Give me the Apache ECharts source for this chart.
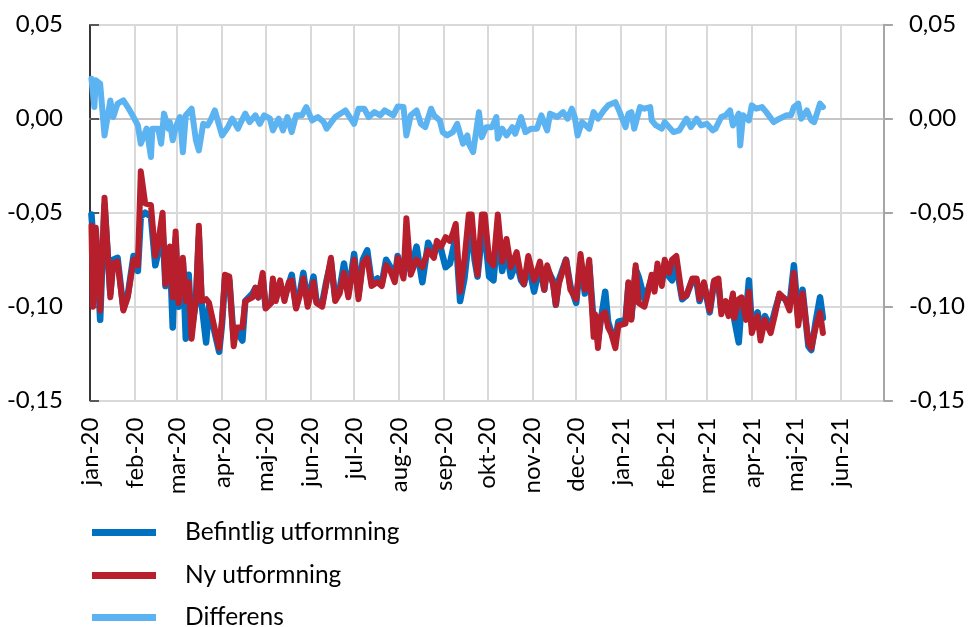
<!DOCTYPE html>
<html>
<head>
<meta charset="utf-8">
<script src="https://cdn.jsdelivr.net/npm/echarts@6/dist/echarts.min.js"></script>
<style>
html,body{margin:0;padding:0;background:#fff;}
#chart{width:968px;height:627px;}
</style>
</head>
<body>
<div id="chart"></div>
<script>
// ---- data ----
const seriesNames = ['Befintlig utformning', 'Ny utformning', 'Differens'];
const monthNames = ['jan','feb','mar','apr','maj','jun','jul','aug','sep','okt','nov','dec'];
const yTicks = [-0.15, -0.10, -0.05, 0.00, 0.05];

const dates = [
'2020-01-02','2020-01-03','2020-01-05','2020-01-08','2020-01-11','2020-01-15','2020-01-17','2020-01-20','2020-01-24','2020-01-27','2020-01-31',
'2020-02-03','2020-02-05','2020-02-08','2020-02-12','2020-02-15','2020-02-17','2020-02-20','2020-02-22','2020-02-25','2020-02-27','2020-02-29',
'2020-03-02','2020-03-05','2020-03-07','2020-03-09','2020-03-11','2020-03-14','2020-03-16','2020-03-18','2020-03-21','2020-03-23','2020-03-27','2020-03-30',
'2020-04-01','2020-04-03','2020-04-06','2020-04-09','2020-04-11','2020-04-15','2020-04-17','2020-04-22','2020-04-24','2020-04-26','2020-04-29',
'2020-05-01','2020-05-05','2020-05-06','2020-05-08','2020-05-11','2020-05-14','2020-05-17','2020-05-19','2020-05-22','2020-05-25','2020-05-27','2020-05-30',
'2020-06-03','2020-06-05','2020-06-09','2020-06-12','2020-06-15','2020-06-18','2020-06-21','2020-06-24','2020-06-27',
'2020-07-01','2020-07-04','2020-07-07','2020-07-10','2020-07-13','2020-07-17','2020-07-20','2020-07-23','2020-07-26','2020-07-29','2020-07-31',
'2020-08-04','2020-08-06','2020-08-09','2020-08-13','2020-08-17','2020-08-21','2020-08-25','2020-08-27','2020-08-30',
'2020-09-02','2020-09-05','2020-09-07','2020-09-09','2020-09-12','2020-09-15','2020-09-18','2020-09-20','2020-09-22','2020-09-24','2020-09-27','2020-09-29',
'2020-10-02','2020-10-05','2020-10-08','2020-10-11','2020-10-14','2020-10-17','2020-10-21','2020-10-24','2020-10-26','2020-10-29',
'2020-11-02','2020-11-06','2020-11-09','2020-11-11','2020-11-15','2020-11-17','2020-11-19','2020-11-24','2020-11-27',
'2020-12-01','2020-12-04','2020-12-07','2020-12-10','2020-12-13','2020-12-14','2020-12-16','2020-12-18','2020-12-21','2020-12-23','2020-12-25','2020-12-28','2020-12-30',
'2021-01-04','2021-01-06','2021-01-08','2021-01-11','2021-01-13','2021-01-17','2021-01-19','2021-01-22','2021-01-24','2021-01-26','2021-01-29','2021-01-31',
'2021-02-03','2021-02-05','2021-02-08','2021-02-12','2021-02-15','2021-02-19','2021-02-22','2021-02-24','2021-02-27',
'2021-03-03','2021-03-06','2021-03-09','2021-03-11','2021-03-14','2021-03-16','2021-03-19','2021-03-20','2021-03-23','2021-03-25','2021-03-28','2021-03-30',
'2021-04-01','2021-04-03','2021-04-05','2021-04-07','2021-04-10','2021-04-14','2021-04-17','2021-04-20','2021-04-24','2021-04-27','2021-04-30',
'2021-05-03','2021-05-06','2021-05-10','2021-05-12','2021-05-15','2021-05-18','2021-05-20'
];

const nyUtformning = [
-0.057,-0.100,-0.058,-0.102,-0.042,-0.095,-0.077,-0.076,-0.102,-0.095,-0.075,
-0.078,-0.028,-0.045,-0.046,-0.073,-0.066,-0.050,-0.088,-0.068,-0.095,-0.060,
-0.098,-0.074,-0.097,-0.087,-0.117,-0.096,-0.057,-0.097,-0.096,-0.098,-0.112,-0.122,
-0.107,-0.083,-0.084,-0.121,-0.111,-0.111,-0.097,-0.095,-0.090,-0.095,-0.082,
-0.101,-0.098,-0.085,-0.097,-0.086,-0.097,-0.087,-0.086,-0.101,-0.093,-0.085,-0.100,
-0.087,-0.098,-0.100,-0.087,-0.074,-0.097,-0.093,-0.082,-0.095,
-0.075,-0.096,-0.077,-0.074,-0.089,-0.087,-0.089,-0.078,-0.081,-0.087,-0.074,
-0.085,-0.053,-0.083,-0.075,-0.079,-0.070,-0.074,-0.065,-0.068,
-0.063,-0.065,-0.061,-0.056,-0.092,-0.075,-0.051,-0.051,-0.070,-0.083,-0.051,-0.051,
-0.075,-0.078,-0.051,-0.076,-0.064,-0.079,-0.071,-0.084,-0.088,-0.073,
-0.086,-0.076,-0.091,-0.078,-0.088,-0.099,-0.088,-0.075,-0.091,
-0.096,-0.072,-0.091,-0.075,-0.116,-0.104,-0.122,-0.105,-0.103,-0.111,-0.114,-0.122,-0.110,
-0.109,-0.087,-0.107,-0.078,-0.098,-0.100,-0.094,-0.083,-0.092,-0.077,-0.089,-0.075,
-0.082,-0.075,-0.073,-0.095,-0.094,-0.085,-0.085,-0.096,-0.087,
-0.102,-0.086,-0.085,-0.104,-0.097,-0.105,-0.093,-0.106,-0.096,-0.095,-0.107,-0.092,
-0.114,-0.109,-0.105,-0.118,-0.107,-0.114,-0.104,-0.093,-0.096,-0.102,-0.082,
-0.110,-0.093,-0.119,-0.122,-0.111,-0.103,-0.114
];

const befintligUtformning = [
-0.051,-0.062,-0.060,-0.107,-0.046,-0.093,-0.075,-0.074,-0.101,-0.094,-0.073,
-0.081,-0.052,-0.050,-0.052,-0.078,-0.071,-0.058,-0.089,-0.070,-0.111,-0.064,
-0.100,-0.076,-0.117,-0.083,-0.112,-0.097,-0.063,-0.099,-0.119,-0.100,-0.114,-0.124,
-0.109,-0.085,-0.086,-0.117,-0.113,-0.118,-0.097,-0.093,-0.090,-0.095,-0.085,
-0.100,-0.097,-0.087,-0.096,-0.088,-0.095,-0.088,-0.083,-0.100,-0.091,-0.082,-0.098,
-0.084,-0.097,-0.098,-0.086,-0.076,-0.096,-0.091,-0.077,-0.093,
-0.072,-0.094,-0.075,-0.070,-0.087,-0.085,-0.088,-0.075,-0.079,-0.085,-0.073,
-0.083,-0.072,-0.081,-0.068,-0.087,-0.066,-0.072,-0.068,-0.070,
-0.079,-0.077,-0.070,-0.062,-0.097,-0.085,-0.064,-0.058,-0.075,-0.084,-0.062,-0.060,
-0.084,-0.086,-0.060,-0.081,-0.070,-0.084,-0.076,-0.086,-0.088,-0.077,
-0.092,-0.078,-0.091,-0.080,-0.086,-0.099,-0.086,-0.075,-0.089,
-0.098,-0.075,-0.093,-0.078,-0.108,-0.106,-0.118,-0.107,-0.092,-0.108,-0.113,-0.118,-0.108,
-0.107,-0.088,-0.106,-0.080,-0.084,-0.096,-0.092,-0.085,-0.090,-0.079,-0.087,-0.077,
-0.084,-0.086,-0.078,-0.096,-0.094,-0.086,-0.087,-0.097,-0.088,
-0.103,-0.087,-0.088,-0.102,-0.098,-0.104,-0.095,-0.107,-0.119,-0.098,-0.104,-0.086,
-0.110,-0.106,-0.103,-0.114,-0.105,-0.111,-0.102,-0.094,-0.096,-0.099,-0.078,
-0.106,-0.091,-0.121,-0.123,-0.108,-0.095,-0.106
];

const differensDates = [
'2020-01-02','2020-01-04','2020-01-05','2020-01-08','2020-01-11','2020-01-15','2020-01-17','2020-01-20','2020-01-24','2020-01-27','2020-01-31',
'2020-02-03','2020-02-05','2020-02-09','2020-02-12','2020-02-13','2020-02-17','2020-02-19','2020-02-21','2020-02-24','2020-02-25','2020-02-27','2020-02-29',
'2020-03-03','2020-03-05','2020-03-07','2020-03-11','2020-03-14','2020-03-16','2020-03-19','2020-03-22','2020-03-24','2020-03-27',
'2020-04-01','2020-04-05','2020-04-08','2020-04-12','2020-04-14','2020-04-17','2020-04-20','2020-04-24','2020-04-27','2020-04-30',
'2020-05-04','2020-05-06','2020-05-10','2020-05-13','2020-05-16','2020-05-19','2020-05-22','2020-05-26','2020-05-29',
'2020-06-02','2020-06-06','2020-06-10','2020-06-12','2020-06-18','2020-06-25',
'2020-07-01','2020-07-04','2020-07-08','2020-07-11','2020-07-15','2020-07-19','2020-07-22','2020-07-28','2020-07-31',
'2020-08-04','2020-08-06','2020-08-09','2020-08-13','2020-08-16','2020-08-19','2020-08-23','2020-08-25','2020-08-29','2020-08-31',
'2020-09-03','2020-09-07','2020-09-10','2020-09-14','2020-09-17','2020-09-18','2020-09-21','2020-09-25','2020-09-27','2020-09-30',
'2020-10-04','2020-10-07','2020-10-08','2020-10-11','2020-10-14','2020-10-18','2020-10-20','2020-10-24','2020-10-27','2020-10-31',
'2020-11-04','2020-11-07','2020-11-11','2020-11-13','2020-11-18','2020-11-22','2020-11-25','2020-11-28','2020-11-30',
'2020-12-02','2020-12-05','2020-12-10','2020-12-13','2020-12-16','2020-12-20','2020-12-23','2020-12-28','2020-12-29','2020-12-31',
'2021-01-04','2021-01-06','2021-01-08','2021-01-10','2021-01-14','2021-01-17','2021-01-21','2021-01-22','2021-01-25','2021-01-29','2021-01-31',
'2021-02-03','2021-02-06','2021-02-10','2021-02-15','2021-02-18','2021-02-22','2021-02-25',
'2021-03-01','2021-03-05','2021-03-07','2021-03-11','2021-03-14','2021-03-17','2021-03-19','2021-03-23','2021-03-24','2021-03-26','2021-03-30',
'2021-04-01','2021-04-04','2021-04-08','2021-04-11','2021-04-16','2021-04-20','2021-04-25','2021-04-28','2021-04-30',
'2021-05-03','2021-05-05','2021-05-09','2021-05-12','2021-05-14','2021-05-18','2021-05-20'
];

const differens = [
0.0213,0.0062,0.0204,0.0186,-0.0089,0.0097,0.0009,0.0080,0.0097,0.0062,0.0009,
-0.0036,-0.0133,-0.0053,-0.0204,-0.0053,-0.0053,-0.0133,0.0027,-0.0053,-0.0018,-0.0115,-0.0045,
0.0009,-0.0178,0.0018,0.0053,-0.0115,-0.0169,-0.0027,-0.0036,-0.0009,0.0044,
-0.0089,-0.0045,0.0000,-0.0053,-0.0018,0.0027,-0.0018,0.0018,-0.0027,0.0018,
0.0000,-0.0062,0.0000,-0.0062,0.0009,-0.0071,0.0018,0.0018,0.0062,
-0.0009,0.0009,-0.0018,-0.0053,0.0009,0.0044,
-0.0027,0.0053,0.0053,0.0009,0.0035,0.0018,0.0044,0.0018,0.0065,
0.0062,-0.0089,0.0018,0.0044,-0.0027,-0.0045,0.0053,0.0018,-0.0009,-0.0071,
-0.0089,-0.0071,-0.0027,-0.0133,-0.0089,-0.0133,-0.0178,0.0035,-0.0098,-0.0045,
-0.0045,0.0009,-0.0106,-0.0053,-0.0089,-0.0045,-0.0080,0.0009,-0.0071,-0.0053,
-0.0053,0.0018,-0.0062,0.0027,0.0009,0.0035,0.0000,0.0053,0.0009,
-0.0089,-0.0018,-0.0053,0.0035,0.0000,0.0044,0.0071,0.0088,0.0097,0.0035,
-0.0045,0.0027,0.0035,-0.0053,0.0062,0.0053,0.0062,-0.0009,-0.0036,-0.0053,-0.0018,
-0.0045,-0.0071,-0.0062,0.0000,-0.0045,0.0000,-0.0036,
-0.0027,-0.0062,-0.0053,0.0009,0.0018,0.0044,-0.0036,0.0027,-0.0142,0.0018,-0.0009,
0.0071,0.0053,0.0062,0.0035,-0.0018,0.0000,0.0018,0.0018,0.0062,
0.0080,0.0000,0.0044,-0.0009,-0.0018,0.0080,0.0062
];

// ---- chart ----
function toTime(s) {
  const p = s.split('-');
  return new Date(+p[0], +p[1] - 1, +p[2]).getTime();
}
const monthStarts = [];
for (let i = 0; i <= 18; i++) monthStarts.push(new Date(2020, i, 1).getTime());
const labelMonths = monthStarts.slice(0, 18);

const FONT = 'Lato';
const chart = echarts.init(document.getElementById('chart'), null, {renderer: 'canvas'});

function fmtY(v) {
  if (Math.abs(v) < 1e-9) v = 0;
  return v.toFixed(2).replace('.', ',');
}

const yCommon = {
  type: 'value', min: yTicks[0], max: yTicks[yTicks.length - 1], interval: 0.05,
  axisLabel: {formatter: fmtY, fontFamily: FONT, fontSize: 24, color: '#000'}
};

const legendTops = [520, 563, 605];
const legends = seriesNames.map((n, i) => ({
  orient: 'vertical', left: 92, top: legendTops[i], padding: 0, selectedMode: false,
  data: [n], icon: 'rect', itemWidth: 64, itemHeight: 7,
  textStyle: {fontFamily: FONT, fontSize: 24.5, color: '#000', padding: [0, 0, 0, 24]}
}));

chart.setOption({
  animation: false,
  backgroundColor: '#fff',
  grid: {left: 90, right: 80, top: 24.7, bottom: 226.3, containLabel: false},
  legend: legends,
  xAxis: {
    type: 'value',
    min: monthStarts[0], max: monthStarts[18],
    axisLine: {show: true, lineStyle: {color: '#BFBFBF', width: 1.5}},
    axisTick: {show: false, customValues: monthStarts},
    splitLine: {show: true, lineStyle: {color: '#D9D9D9', width: 2}},
    axisLabel: {
      customValues: labelMonths, rotate: 90, margin: 17,
      fontFamily: FONT, fontSize: 24, color: '#000',
      formatter: function (v) {
        const d = new Date(v);
        return monthNames[d.getMonth()] + '-' + String(d.getFullYear()).slice(2);
      }
    }
  },
  yAxis: [
    Object.assign({}, yCommon, {
      position: 'left',
      axisLine: {show: true, lineStyle: {color: '#000', width: 1.5}},
      axisTick: {show: true, inside: true, length: 9, lineStyle: {color: '#595959', width: 2}},
      splitLine: {show: true, lineStyle: {color: '#D9D9D9', width: 2}},
      axisLabel: Object.assign({}, yCommon.axisLabel, {margin: 27})
    }),
    Object.assign({}, yCommon, {
      position: 'right',
      axisLine: {show: true, lineStyle: {color: '#A6A6A6', width: 2}},
      axisTick: {show: true, inside: false, length: 9, lineStyle: {color: '#A6A6A6', width: 2}},
      splitLine: {show: false},
      axisLabel: Object.assign({}, yCommon.axisLabel, {margin: 25})
    })
  ],
  series: [
    {
      name: seriesNames[2], type: 'line', showSymbol: false, z: 2,
      data: differensDates.map((d, i) => [toTime(d), differens[i]]),
      itemStyle: {color: '#5CB3F1'},
      lineStyle: {color: '#5CB3F1', width: 6, cap: 'round', join: 'round'}
    },
    {
      name: seriesNames[0], type: 'line', showSymbol: false, z: 3,
      data: dates.map((d, i) => [toTime(d), befintligUtformning[i]]),
      itemStyle: {color: '#0070C0'},
      lineStyle: {color: '#0070C0', width: 6.5, cap: 'round', join: 'round'}
    },
    {
      name: seriesNames[1], type: 'line', showSymbol: false, z: 4,
      data: dates.map((d, i) => [toTime(d), nyUtformning[i]]),
      itemStyle: {color: '#B71F2D'},
      lineStyle: {color: '#B71F2D', width: 6, cap: 'round', join: 'round'}
    }
  ]
});
</script>
</body>
</html>
